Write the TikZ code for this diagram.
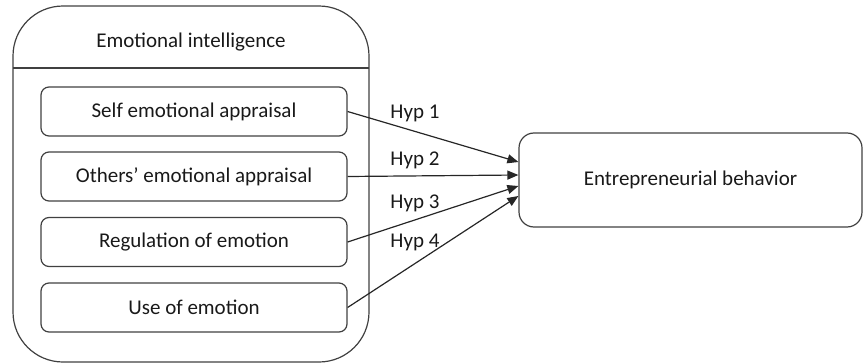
\documentclass[tikz,border=0pt]{standalone}
\usepackage{fontspec}
\setmainfont{Carlito}
\usetikzlibrary{arrows.meta,calc}
\begin{document}
\begin{tikzpicture}[x=0.5pt,y=-0.5pt,
  font=\fontsize{10.5pt}{12pt}\selectfont,
  frame/.style={draw=black!75,line width=0.6pt},
  inner/.style={frame,rounded corners=4pt,minimum width=153pt,minimum height=24.5pt,inner sep=0pt,text=black!90},
  hyp/.style={-{Triangle[length=5.5pt,width=4.5pt]},draw=black!85,line width=0.6pt},
  lbl/.style={inner sep=0pt,text=black!90}]
\useasboundingbox (0,0) rectangle (868,364);
\node[frame,rounded corners=25pt,minimum width=178pt,minimum height=178pt,inner sep=0pt] (ei) at (191,184) {};
\coordinate (dl) at (13,68);
\coordinate (dr) at (369,68);
\draw[frame] (dl) -- (dr);
\node[lbl] (eit) at (191,42) {Emotional intelligence};
\node[inner] (b1) at (194,111.5) {Self emotional appraisal};
\node[inner] (b2) at (194,176.5) {Others’ emotional appraisal};
\node[inner] (b3) at (194,242) {Regulation of emotion};
\node[inner] (b4) at (194,307.5) {Use of emotion};
\node[frame,rounded corners=7.5pt,minimum width=171.5pt,minimum height=47pt,inner sep=0pt,text=black!90] (eb) at (690.5,180) {Entrepreneurial behavior};
\draw[hyp] (b1.east) -- ($(eb.west)+(0,-18)$);
\draw[hyp] (b2.east) -- ($(eb.west)+(0,-5)$);
\draw[hyp] (b3.east) -- ($(eb.west)+(0,6)$);
\draw[hyp] (b4.east) -- ($(eb.west)+(0,16)$);
\node[lbl] (h1) at (415,113) {Hyp 1};
\node[lbl] (h2) at (415,160) {Hyp 2};
\node[lbl] (h3) at (415,203) {Hyp 3};
\node[lbl] (h4) at (415,242) {Hyp 4};
\end{tikzpicture}
\end{document}
